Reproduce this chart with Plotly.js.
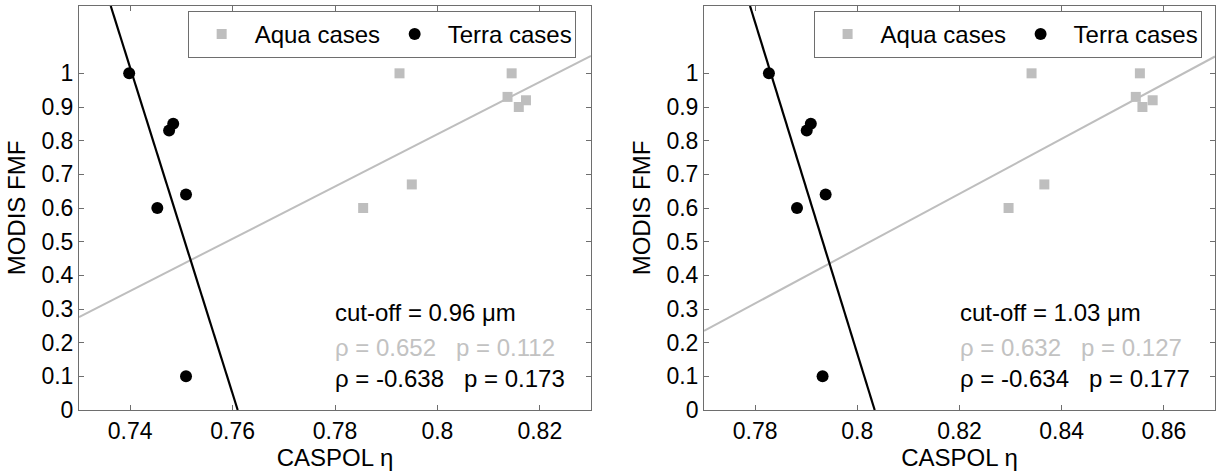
<!DOCTYPE html>
<html><head><meta charset="utf-8">
<script src="https://cdn.plot.ly/plotly-3.0.1.min.js"></script>
<style>body{margin:0;background:#fff}</style>
</head><body><div id="chart" style="width:1217px;height:475px"></div>
<script>
// ---- data ----
const aquaY = [1.0, 1.0, 0.93, 0.90, 0.92, 0.67, 0.60];
const terraY = [1.0, 0.60, 0.83, 0.85, 0.64, 0.10];
const aquaXLeft = [0.7926, 0.8145, 0.8137, 0.8159, 0.8173, 0.7950, 0.7855];
const terraXLeft = [0.7398, 0.7453, 0.7476, 0.7484, 0.7509, 0.7509];
const aquaXRight = [0.8341, 0.8553, 0.8545, 0.8558, 0.8578, 0.8366, 0.8296];
const terraXRight = [0.7827, 0.7882, 0.7901, 0.7909, 0.7938, 0.7932];

// fitted lines (end points)
const aquaFitXLeft = [0.73, 0.83];
const aquaFitYLeft = [0.276, 1.052];
const terraFitXLeft = [0.7362, 0.7610];
const terraFitYLeft = [1.2, 0.0];
const aquaFitXRight = [0.77, 0.87];
const aquaFitYRight = [0.235, 1.05];
const terraFitXRight = [0.7790, 0.8034];
const terraFitYRight = [1.2, 0.0];

// ticks
const xTicksLeft = [0.74, 0.76, 0.78, 0.8, 0.82];
const xTickTextLeft = ['0.74', '0.76', '0.78', '0.8', '0.82'];
const xTicksRight = [0.78, 0.8, 0.82, 0.84, 0.86];
const xTickTextRight = ['0.78', '0.8', '0.82', '0.84', '0.86'];
const yTicks = [0, 0.1, 0.2, 0.3, 0.4, 0.5, 0.6, 0.7, 0.8, 0.9, 1];
const yTickText = ['0', '0.1', '0.2', '0.3', '0.4', '0.5', '0.6', '0.7', '0.8', '0.9', '1'];

// stats text
const cutoffLeft = 'cut-off = 0.96 μm';
const aquaStatLeft = 'ρ = 0.652\u00a0\u00a0\u00a0p = 0.112';
const terraStatLeft = 'ρ = -0.638\u00a0\u00a0\u00a0p = 0.173';
const cutoffRight = 'cut-off = 1.03 μm';
const aquaStatRight = 'ρ = 0.632\u00a0\u00a0\u00a0p = 0.127';
const terraStatRight = 'ρ = -0.634\u00a0\u00a0\u00a0p = 0.177';

const GRAY = '#bebebe';
const AXC = '#6e6e6e';
const FONT = '"Liberation Sans", Arial, Helvetica, sans-serif';

const traces = [
  {x: aquaFitXLeft, y: aquaFitYLeft, mode: 'lines', line: {color: GRAY, width: 2}, showlegend: false, xaxis: 'x', yaxis: 'y', hoverinfo: 'skip'},
  {x: terraFitXLeft, y: terraFitYLeft, mode: 'lines', line: {color: '#000', width: 2.2}, showlegend: false, xaxis: 'x', yaxis: 'y', hoverinfo: 'skip'},
  {x: aquaXLeft, y: aquaY, mode: 'markers', name: 'Aqua cases', marker: {symbol: 'square', size: 10, color: GRAY}, xaxis: 'x', yaxis: 'y', legend: 'legend'},
  {x: terraXLeft, y: terraY, mode: 'markers', name: 'Terra cases', marker: {symbol: 'circle', size: 12, color: '#000'}, xaxis: 'x', yaxis: 'y', legend: 'legend'},

  {x: aquaFitXRight, y: aquaFitYRight, mode: 'lines', line: {color: GRAY, width: 2}, showlegend: false, xaxis: 'x2', yaxis: 'y2', hoverinfo: 'skip'},
  {x: terraFitXRight, y: terraFitYRight, mode: 'lines', line: {color: '#000', width: 2.2}, showlegend: false, xaxis: 'x2', yaxis: 'y2', hoverinfo: 'skip'},
  {x: aquaXRight, y: aquaY, mode: 'markers', name: 'Aqua cases', marker: {symbol: 'square', size: 10, color: GRAY}, xaxis: 'x2', yaxis: 'y2', legend: 'legend2'},
  {x: terraXRight, y: terraY, mode: 'markers', name: 'Terra cases', marker: {symbol: 'circle', size: 12, color: '#000'}, xaxis: 'x2', yaxis: 'y2', legend: 'legend2'}
];

function xAxis(domain, range, vals, text, anchor) {
  return {domain: domain, range: range, anchor: anchor, tickvals: vals, ticktext: text,
    ticks: 'inside', ticklen: 5, tickwidth: 1, tickcolor: AXC, showline: true, linecolor: AXC, linewidth: 1,
    mirror: 'allticks', showgrid: false, zeroline: false, tickfont: {size: 23, color: '#000'},
    title: {text: 'CASPOL η', font: {size: 24, color: '#000'}, standoff: 1}, automargin: false};
}
function yAxis(range, anchor) {
  return {domain: [0, 1], range: range, anchor: anchor, tickvals: yTicks, ticktext: yTickText,
    ticks: 'inside', ticklen: 5, tickwidth: 1, tickcolor: AXC, showline: true, linecolor: AXC, linewidth: 1,
    mirror: 'allticks', showgrid: false, zeroline: false, tickfont: {size: 23, color: '#000'},
    title: {text: 'MODIS FMF', font: {size: 24, color: '#000'}, standoff: 9}, automargin: false};
}

function legendCfg(x) {
  return {orientation: 'h', x: x, y: 0.988, xanchor: 'right', yanchor: 'top',
    bgcolor: '#fff', bordercolor: AXC, borderwidth: 1, font: {size: 24, color: '#000', family: FONT},
    itemwidth: 56, entrywidth: 122, tracegroupgap: 0};
}

function ann(x, y, text, color, xref, yref) {
  return {x: x, y: y, xref: xref, yref: yref, text: text, showarrow: false, xanchor: 'left', yanchor: 'middle',
    font: {size: 24, color: color, family: FONT}};
}

const layout = {
  width: 1217, height: 475,
  margin: {l: 79, r: 2, t: 6, b: 65},
  paper_bgcolor: '#fff', plot_bgcolor: '#fff',
  font: {family: FONT, size: 23, color: '#000'},
  xaxis: xAxis([0, 0.4507], [0.73, 0.83], xTicksLeft, xTickTextLeft, 'y'),
  yaxis: yAxis([0, 1.2], 'x'),
  xaxis2: xAxis([0.5502, 1], [0.77, 0.87], xTicksRight, xTickTextRight, 'y2'),
  yaxis2: yAxis([0, 1.2], 'x2'),
  legend: legendCfg(0.4372),
  legend2: legendCfg(0.9882),
  annotations: [
    ann(0.7797, 0.29, cutoffLeft, '#000', 'x', 'y'),
    ann(0.7797, 0.187, aquaStatLeft, '#c2c2c2', 'x', 'y'),
    ann(0.7797, 0.094, terraStatLeft, '#000', 'x', 'y'),
    ann(0.8197, 0.29, cutoffRight, '#000', 'x2', 'y2'),
    ann(0.8197, 0.187, aquaStatRight, '#c2c2c2', 'x2', 'y2'),
    ann(0.8197, 0.094, terraStatRight, '#000', 'x2', 'y2')
  ],
  showlegend: true
};

Plotly.newPlot('chart', traces, layout, {staticPlot: true});
</script></body></html>
